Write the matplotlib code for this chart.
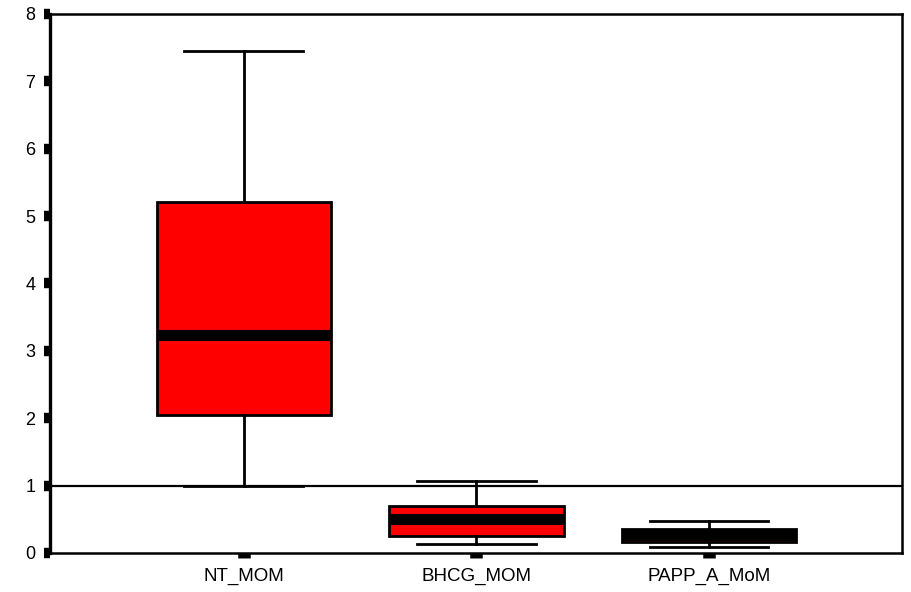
"""MoM 标志物箱线图"""

import matplotlib
matplotlib.use('Agg')
import matplotlib.pyplot as plt

# 各变量的五数概括
variables = ['NT_MOM', 'BHCG_MOM', 'PAPP_A_MoM']
whisker_low = [1.00, 0.13, 0.09]
q1 = [2.05, 0.25, 0.16]
median = [3.23, 0.50, 0.26]
q3 = [5.21, 0.70, 0.36]
whisker_high = [7.45, 1.07, 0.47]

# 参考线位置
ref_value = 1.0


def build_stats():
    stats = []
    for i, name in enumerate(variables):
        stats.append({
            'label': name,
            'whislo': whisker_low[i],
            'q1': q1[i],
            'med': median[i],
            'q3': q3[i],
            'whishi': whisker_high[i],
            'fliers': [],
        })
    return stats


def main():
    plt.rcParams['font.family'] = ['Liberation Sans', 'DejaVu Sans']

    fig = plt.figure(figsize=(9.11, 5.92), dpi=100)
    ax = fig.add_axes([0.0549, 0.0659, 0.9352, 0.9105])

    ax.axhline(ref_value, color='black', linewidth=1.6, zorder=1)

    ax.bxp(
        build_stats(),
        positions=range(1, len(variables) + 1),
        widths=0.75,
        capwidths=0.51,
        patch_artist=True,
        showfliers=False,
        boxprops=dict(facecolor='#ff0000', edgecolor='black', linewidth=2.0),
        medianprops=dict(color='black', linewidth=8, solid_capstyle='butt'),
        whiskerprops=dict(color='black', linewidth=2.0),
        capprops=dict(color='black', linewidth=2.0),
        zorder=2,
    )

    ax.set_xlim(0.167, 3.83)
    ax.set_ylim(0, 8)
    ax.set_yticks(range(0, 9))

    for side in ['top', 'right', 'bottom']:
        ax.spines[side].set_linewidth(1.8)
    ax.spines['left'].set_linewidth(2.4)

    ax.tick_params(axis='y', direction='out', length=4.5, width=7.5,
                   pad=6, labelsize=13)
    ax.tick_params(axis='x', direction='out', length=3.5, width=9,
                   pad=7, labelsize=13.5)

    plt.savefig('out.png', dpi=100)


if __name__ == "__main__":
    main()
